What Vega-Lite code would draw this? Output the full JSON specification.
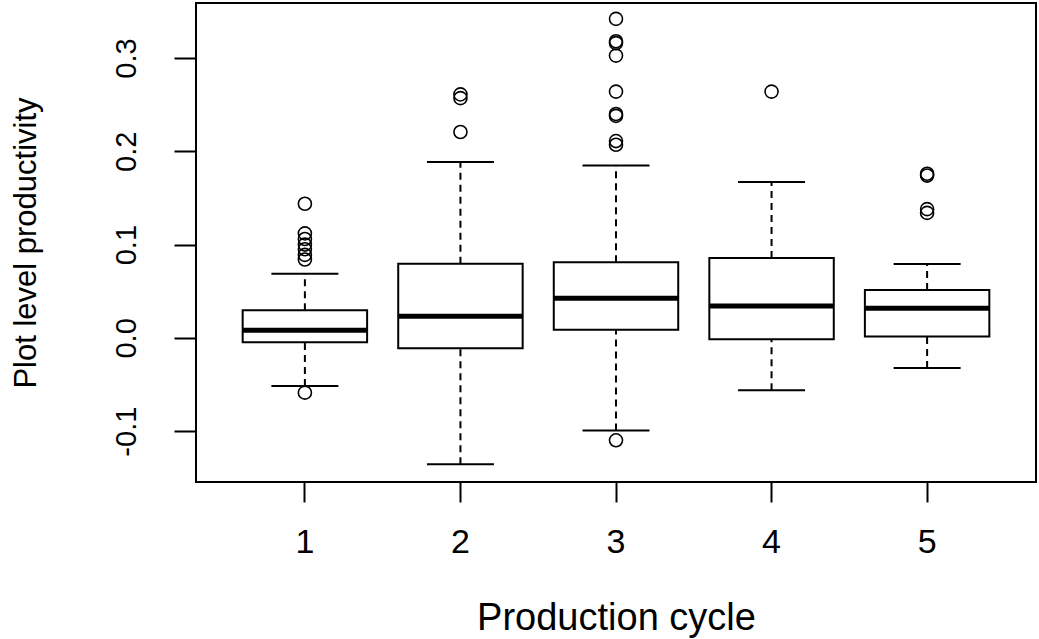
{
  "$schema": "https://vega.github.io/schema/vega-lite/v6.json",
  "width": 840,
  "height": 479,
  "autosize": {"type": "none"},
  "padding": {"left": 196, "top": 3, "right": 3, "bottom": 157},
  "background": "white",
  "config": {
    "view": {"stroke": "black", "strokeWidth": 2},
    "font": "Liberation Sans"
  },
  "datasets": {
    "stats": [
      {"cycle": "1", "lo": -0.0515, "q1": -0.0046, "med": 0.0083, "q3": 0.0297, "hi": 0.0687},
      {"cycle": "2", "lo": -0.1355, "q1": -0.011, "med": 0.0233, "q3": 0.0794, "hi": 0.1885},
      {"cycle": "3", "lo": -0.0994, "q1": 0.0086, "med": 0.0426, "q3": 0.0812, "hi": 0.1849},
      {"cycle": "4", "lo": -0.0561, "q1": -0.0014, "med": 0.0343, "q3": 0.0855, "hi": 0.167},
      {"cycle": "5", "lo": -0.0322, "q1": 0.0014, "med": 0.0318, "q3": 0.0512, "hi": 0.0791}
    ],
    "outliers": [
      {"cycle": "1", "value": 0.1438},
      {"cycle": "1", "value": 0.112},
      {"cycle": "1", "value": 0.106},
      {"cycle": "1", "value": 0.100},
      {"cycle": "1", "value": 0.095},
      {"cycle": "1", "value": 0.089},
      {"cycle": "1", "value": 0.084},
      {"cycle": "1", "value": -0.0587},
      {"cycle": "2", "value": 0.261},
      {"cycle": "2", "value": 0.257},
      {"cycle": "2", "value": 0.2207},
      {"cycle": "3", "value": 0.342},
      {"cycle": "3", "value": 0.318},
      {"cycle": "3", "value": 0.316},
      {"cycle": "3", "value": 0.3026},
      {"cycle": "3", "value": 0.264},
      {"cycle": "3", "value": 0.240},
      {"cycle": "3", "value": 0.238},
      {"cycle": "3", "value": 0.211},
      {"cycle": "3", "value": 0.207},
      {"cycle": "3", "value": -0.1098},
      {"cycle": "4", "value": 0.264},
      {"cycle": "5", "value": 0.176},
      {"cycle": "5", "value": 0.174},
      {"cycle": "5", "value": 0.138},
      {"cycle": "5", "value": 0.134}
    ]
  },
  "encoding": {
    "x": {
      "field": "cycle",
      "type": "ordinal",
      "scale": {"paddingInner": 0.2, "paddingOuter": 0.3},
      "axis": {
        "title": "Production cycle",
        "titleFontSize": 38,
        "titleFontWeight": "normal",
        "titleColor": "black",
        "titlePadding": 40,
        "labelAngle": 0,
        "labelFontSize": 34,
        "labelColor": "black",
        "labelPadding": 23,
        "tickSize": 20,
        "tickWidth": 2,
        "tickColor": "black",
        "domain": false,
        "grid": false
      }
    }
  },
  "layer": [
    {
      "data": {"name": "stats"},
      "mark": {"type": "rule", "strokeDash": [7, 5], "strokeWidth": 2, "color": "black"},
      "encoding": {
        "y": {
          "field": "q3",
          "type": "quantitative",
          "scale": {"domain": [-0.1545, 0.359], "nice": false, "zero": false},
          "axis": {
            "title": "Plot level productivity",
            "titleFontSize": 31,
            "titleFontWeight": "normal",
            "titleColor": "black",
            "titlePadding": 70,
            "values": [-0.1, 0, 0.1, 0.2, 0.3],
            "labelExpr": "replace(format(datum.value, '.1f'), '\u2212', '-')",
            "labelAngle": -90,
            "labelAlign": "center",
            "labelBaseline": "alphabetic",
            "labelFontSize": 29,
            "labelColor": "black",
            "labelPadding": 39,
            "tickSize": 22,
            "tickWidth": 2,
            "tickColor": "black",
            "domain": false,
            "grid": false
          }
        },
        "y2": {"field": "hi"}
      }
    },
    {
      "data": {"name": "stats"},
      "mark": {"type": "rule", "strokeDash": [7, 5], "strokeWidth": 2, "color": "black"},
      "encoding": {
        "y": {"field": "lo", "type": "quantitative"},
        "y2": {"field": "q1"}
      }
    },
    {
      "data": {"name": "stats"},
      "mark": {"type": "tick", "size": 67, "thickness": 2, "color": "black", "opacity": 1},
      "encoding": {"y": {"field": "hi", "type": "quantitative"}}
    },
    {
      "data": {"name": "stats"},
      "mark": {"type": "tick", "size": 67, "thickness": 2, "color": "black", "opacity": 1},
      "encoding": {"y": {"field": "lo", "type": "quantitative"}}
    },
    {
      "data": {"name": "stats"},
      "mark": {"type": "bar", "fill": "white", "stroke": "black", "strokeWidth": 2},
      "encoding": {
        "y": {"field": "q1", "type": "quantitative"},
        "y2": {"field": "q3"}
      }
    },
    {
      "data": {"name": "stats"},
      "mark": {"type": "tick", "size": 124, "thickness": 5, "color": "black", "opacity": 1},
      "encoding": {"y": {"field": "med", "type": "quantitative"}}
    },
    {
      "data": {"name": "outliers"},
      "mark": {"type": "point", "shape": "circle", "filled": false, "size": 170, "strokeWidth": 1.6, "color": "black", "opacity": 1},
      "encoding": {"y": {"field": "value", "type": "quantitative"}}
    },
    {
      "mark": {"type": "rule", "strokeWidth": 1.5, "color": "black"},
      "encoding": {"y": {"datum": 0, "type": "quantitative"}}
    }
  ]
}
